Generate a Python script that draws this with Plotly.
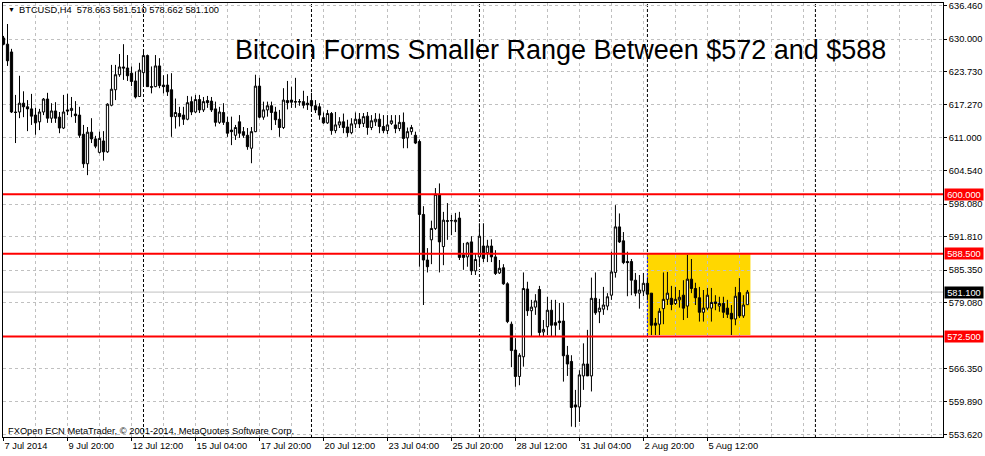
import plotly.graph_objects as go
import pandas as pd

symbol = "BTCUSD,H4"
first_bar = "2014-07-07 04:00"

opens = [
    630.2, 629.0, 627.5, 615.9, 615.9, 617.6, 616.9, 616.5, 615.3, 614.0,
    615.9, 618.4, 614.7, 616.1, 614.9, 612.8, 616.3, 616.2, 615.5, 615.3,
    611.6, 605.9, 612.0, 610.7, 608.1, 610.3, 608.2, 617.2, 620.2, 623.1,
    624.6, 624.4, 623.4, 621.9, 618.9, 623.5, 626.8, 620.8, 620.8, 624.8,
    621.1, 621.1, 620.2, 615.0, 615.6, 615.3, 614.5, 617.9, 615.9, 618.3,
    616.3, 618.1, 618.0, 616.5, 613.9, 615.8, 613.9, 612.4, 611.4, 614.0,
    612.1, 611.4, 608.9, 612.1, 620.9, 614.9, 616.3, 617.1, 615.9, 614.5,
    612.9, 618.1, 618.2, 617.8, 617.9, 617.9, 617.6, 618.1, 617.1, 616.9,
    614.8, 613.8, 615.6, 612.3, 613.4, 614.0, 613.0, 611.9, 613.6, 614.5,
    613.7, 615.1, 612.9, 614.0, 614.5, 613.1, 612.3, 613.7, 613.4, 612.7,
    613.9, 610.9, 612.1, 611.4, 610.2, 596.1, 587.3, 591.2, 593.4, 599.9,
    589.9, 594.9, 594.9, 594.7, 595.4, 588.3, 587.9, 590.8, 585.2, 587.9,
    590.0, 588.7, 590.0, 587.9, 584.8, 585.8, 582.7, 574.9, 569.9, 564.8,
    568.6, 581.7, 577.5, 578.2, 581.6, 573.4, 574.4, 577.6, 575.2, 575.5,
    575.5, 568.9, 567.7, 559.3, 558.9, 564.9, 567.2, 564.9, 579.9, 577.3,
    577.8, 578.4, 580.5, 584.9, 593.7, 591.0, 587.0, 587.0, 583.4, 580.9,
    581.3, 582.8, 580.9, 575.1, 574.9, 577.9, 579.7, 579.9, 578.9, 579.6,
    580.5, 578.4, 583.6, 581.8, 580.0, 577.2, 578.0, 578.0, 579.2, 578.4,
    578.9, 578.0, 577.0, 575.9, 581.0, 576.5, 578.663,
]
highs = [
    630.6, 632.9, 628.1, 619.2, 622.9, 619.9, 618.2, 619.4, 616.7, 616.5,
    618.6, 619.6, 617.6, 617.8, 615.9, 619.2, 619.4, 618.8, 618.0, 616.9,
    613.4, 613.0, 614.7, 611.3, 612.1, 612.2, 617.6, 625.0, 625.0, 627.1,
    629.0, 626.9, 624.7, 623.7, 625.4, 627.7, 627.0, 624.7, 626.9, 626.3,
    623.0, 623.2, 623.4, 618.5, 616.9, 616.9, 619.0, 618.9, 619.2, 619.2,
    618.8, 619.0, 618.8, 617.9, 616.9, 617.6, 615.0, 615.0, 613.4, 615.3,
    613.0, 612.8, 613.0, 623.1, 622.5, 617.9, 617.9, 617.9, 616.9, 616.3,
    620.5, 621.9, 620.8, 622.5, 618.4, 620.0, 619.0, 619.6, 618.2, 617.6,
    615.8, 616.3, 615.9, 615.9, 614.9, 615.6, 614.4, 614.7, 615.8, 615.7,
    615.7, 615.9, 615.3, 615.7, 615.6, 615.3, 615.3, 615.3, 615.3, 615.3,
    615.8, 612.9, 613.4, 612.1, 610.6, 597.7, 589.6, 594.9, 601.2, 602.1,
    596.6, 598.3, 596.0, 596.4, 596.6, 590.6, 590.8, 591.9, 588.6, 594.4,
    594.4, 591.2, 591.3, 589.2, 587.3, 586.5, 583.0, 575.4, 572.2, 569.3,
    584.9, 583.1, 579.6, 580.7, 582.3, 575.7, 580.2, 579.6, 579.6, 579.0,
    579.0, 570.7, 568.9, 562.2, 566.0, 571.2, 573.8, 583.9, 584.9, 579.8,
    582.1, 580.9, 588.9, 597.9, 596.3, 592.7, 588.9, 587.5, 584.8, 584.4,
    584.8, 583.8, 580.9, 576.1, 578.0, 584.9, 585.0, 582.3, 582.1, 581.5,
    583.4, 588.3, 587.5, 582.9, 582.1, 581.5, 581.9, 581.9, 580.5, 580.2,
    580.2, 579.6, 578.6, 582.1, 583.8, 580.5, 581.51,
]
lows = [
    628.8, 624.8, 615.7, 609.9, 614.7, 614.9, 612.2, 613.4, 611.5, 612.4,
    615.3, 613.8, 613.8, 613.8, 611.8, 612.6, 615.3, 614.9, 613.8, 610.9,
    605.1, 603.7, 609.9, 608.9, 607.9, 606.5, 608.0, 617.0, 618.2, 622.7,
    622.1, 621.9, 620.9, 618.5, 618.8, 620.8, 620.8, 619.5, 620.7, 620.5,
    619.5, 619.0, 611.1, 612.7, 613.1, 613.4, 614.3, 615.3, 615.7, 615.7,
    615.9, 616.7, 615.9, 613.1, 613.6, 613.4, 611.1, 609.5, 610.5, 610.9,
    610.9, 608.6, 606.0, 612.0, 614.7, 614.4, 615.0, 612.4, 613.4, 611.1,
    612.6, 616.4, 616.7, 616.7, 617.1, 616.6, 616.3, 615.9, 615.7, 614.4,
    613.6, 613.6, 611.5, 611.8, 612.8, 611.8, 611.1, 611.6, 612.8, 612.8,
    613.0, 611.5, 612.4, 613.2, 611.8, 611.8, 611.6, 613.4, 611.8, 612.2,
    608.9, 608.9, 611.5, 609.7, 586.0, 578.6, 584.9, 586.5, 593.1, 584.9,
    586.3, 591.2, 592.1, 592.7, 587.3, 585.4, 586.0, 584.4, 584.4, 586.3,
    586.9, 586.9, 586.9, 584.4, 584.6, 582.5, 575.1, 566.6, 562.8, 563.1,
    566.7, 576.5, 572.6, 576.7, 572.6, 572.6, 572.8, 572.6, 572.6, 573.8,
    563.8, 564.9, 555.1, 555.0, 556.0, 562.2, 564.9, 561.9, 576.7, 575.1,
    576.7, 577.6, 579.6, 583.9, 590.6, 586.5, 580.3, 580.5, 580.3, 577.9,
    580.3, 579.6, 572.8, 572.8, 572.8, 574.9, 578.6, 577.6, 578.6, 578.1,
    575.7, 576.1, 580.9, 578.6, 575.4, 575.4, 577.6, 575.4, 577.6, 577.3,
    576.1, 576.1, 572.8, 574.7, 576.1, 576.1, 578.662,
]
closes = [
    629.0, 625.8, 615.9, 615.8, 617.6, 616.9, 616.5, 615.1, 613.8, 615.9,
    618.4, 614.7, 616.1, 614.7, 612.8, 615.9, 616.1, 616.6, 615.2, 611.4,
    605.9, 612.0, 610.7, 609.3, 610.8, 608.2, 617.4, 620.3, 623.1, 624.6,
    624.4, 622.9, 621.8, 618.8, 624.0, 626.8, 620.8, 620.7, 624.8, 621.0,
    620.8, 619.8, 615.0, 615.8, 615.0, 614.5, 617.7, 615.9, 618.3, 616.3,
    617.9, 617.7, 616.3, 613.9, 615.9, 613.9, 611.8, 612.1, 612.9, 611.8,
    611.4, 609.2, 612.1, 620.9, 614.9, 616.3, 617.1, 615.8, 614.4, 612.9,
    618.2, 617.7, 617.8, 617.9, 617.85, 617.2, 617.3, 617.1, 616.3, 615.3,
    613.8, 615.6, 612.3, 613.4, 614.0, 612.9, 611.9, 613.6, 614.5, 613.6,
    615.0, 612.9, 614.2, 614.5, 613.1, 612.3, 613.4, 614.2, 612.7, 613.9,
    610.8, 612.1, 612.9, 609.9, 596.1, 587.3, 586.0, 593.4, 600.0, 590.8,
    595.0, 594.8, 594.9, 595.0, 587.8, 587.8, 590.6, 585.2, 587.4, 591.9,
    587.6, 590.0, 587.9, 584.7, 585.7, 582.7, 575.4, 569.8, 564.8, 568.9,
    581.8, 577.5, 578.2, 579.4, 573.3, 573.9, 577.6, 574.7, 574.7, 575.2,
    568.8, 567.2, 558.8, 558.9, 565.1, 567.2, 564.9, 579.9, 577.1, 578.0,
    578.6, 580.2, 585.0, 593.7, 590.8, 586.8, 586.8, 583.4, 580.9, 581.5,
    582.8, 580.7, 574.7, 574.7, 577.4, 579.7, 580.9, 578.7, 579.7, 580.1,
    578.0, 583.6, 581.8, 580.0, 577.2, 578.0, 580.5, 579.1, 578.9, 578.9,
    577.2, 576.8, 575.9, 580.3, 576.5, 578.6, 581.1,
]

tick_times = ["2014-07-07 04:00", "2014-07-09 20:00", "2014-07-12 12:00",
              "2014-07-15 04:00", "2014-07-17 20:00", "2014-07-20 12:00",
              "2014-07-23 04:00", "2014-07-25 20:00", "2014-07-28 12:00",
              "2014-07-31 04:00", "2014-08-02 20:00", "2014-08-05 12:00"]
tick_labels = ["7 Jul 2014", "9 Jul 20:00", "12 Jul 12:00", "15 Jul 04:00",
               "17 Jul 20:00", "20 Jul 12:00", "23 Jul 04:00", "25 Jul 20:00",
               "28 Jul 12:00", "31 Jul 04:00", "2 Aug 20:00", "5 Aug 12:00"]
price_ticks = [636.46, 630.0, 623.73, 617.27, 611.0, 604.54, 598.08,
               591.81, 585.35, 579.08, 566.35, 559.89, 553.62]
levels = [600.0, 588.5, 572.5]
last_price = 581.1
week_starts = ["2014-07-13", "2014-07-20", "2014-07-27", "2014-08-03", "2014-08-10"]
box_start, box_end = "2014-08-03 00:00", "2014-08-07 07:00"
box_low, box_high = 572.8, 588.5
x_range = ["2014-07-07 03:30", "2014-08-15 07:36"]
y_range = [553.1, 636.96]

title = "Bitcoin Forms Smaller Range Between $572 and $588"
footer = "FXOpen ECN MetaTrader, © 2001-2014, MetaQuotes Software Corp."

times = pd.date_range(first_bar, periods=len(opens), freq="4h")

FONT = "Liberation Sans, Arial, sans-serif"
GRID = "#C0C0C0"
TS = 9.3

fig = go.Figure()
fig.add_trace(go.Candlestick(
    x=times, open=opens, high=highs, low=lows, close=closes,
    increasing=dict(line=dict(color="black", width=1), fillcolor="white"),
    decreasing=dict(line=dict(color="black", width=1), fillcolor="black"),
    whiskerwidth=0, showlegend=False, hoverinfo="skip",
))

shapes = []
shapes.append(dict(type="rect", xref="x", yref="y", x0=box_start, x1=box_end,
                   y0=box_low, y1=box_high, fillcolor="#FFD700",
                   line=dict(width=0), layer="below"))
shapes.append(dict(type="line", xref="x", yref="y", x0=box_start, x1=box_start,
                   y0=box_low, y1=box_high,
                   line=dict(color="#0000FF", width=1, dash="2px,2px"),
                   layer="between"))
for w in week_starts:
    shapes.append(dict(type="line", xref="x", yref="paper", x0=w, x1=w, y0=0, y1=1,
                       line=dict(color="black", width=1, dash="3px,2px"),
                       layer="between"))
shapes.append(dict(type="line", xref="paper", yref="y", x0=0, x1=1,
                   y0=last_price, y1=last_price,
                   line=dict(color=GRID, width=1), layer="between"))
for lv in levels:
    shapes.append(dict(type="line", xref="paper", yref="y", x0=0, x1=1, y0=lv, y1=lv,
                       line=dict(color="#FF0000", width=2), layer="above"))

W, H = 985, 456
L, R, T, B = 3, 42, 3, 19
pw, ph = W - L - R, H - T - B


def px_x(x):
    return (x - L) / pw


def px_y(y):
    return (H - B - y) / ph


annotations = [
    dict(text="▼", x=px_x(6), y=px_y(10), xref="paper", yref="paper",
         xanchor="left", yanchor="middle", showarrow=False,
         font=dict(family=FONT, size=7, color="black")),
    dict(text=f"{symbol}  {opens[-1]:.3f} {highs[-1]:.3f} {lows[-1]:.3f} {closes[-1]:.3f}",
         x=px_x(17), y=px_y(10), xref="paper", yref="paper",
         xanchor="left", yanchor="middle", showarrow=False,
         font=dict(family=FONT, size=TS, color="black")),
    dict(text=title, x=px_x(233), y=px_y(50), xref="paper", yref="paper",
         xanchor="left", yanchor="middle", showarrow=False,
         font=dict(family=FONT, size=27, color="black")),
    dict(text=footer, x=px_x(6), y=px_y(431), xref="paper", yref="paper",
         xanchor="left", yanchor="middle", showarrow=False,
         font=dict(family=FONT, size=TS, color="black")),
]
for lv in levels:
    annotations.append(dict(text=f"{lv:.3f}", x=1, y=lv, xref="paper", yref="y",
                            xanchor="left", yanchor="middle", xshift=1,
                            showarrow=False, bgcolor="#FF0000", width=38, height=11,
                            borderpad=0, align="center",
                            font=dict(family=FONT, size=TS, color="white")))
annotations.append(dict(text=f"{last_price:.3f}", x=1, y=last_price, xref="paper", yref="y",
                        xanchor="left", yanchor="middle", xshift=1,
                        showarrow=False, bgcolor="black", width=38, height=11,
                        borderpad=0, align="center",
                        font=dict(family=FONT, size=TS, color="white")))

fig.update_layout(
    width=W, height=H,
    margin=dict(l=L, r=R, t=T, b=B, pad=0),
    paper_bgcolor="white", plot_bgcolor="white",
    showlegend=False, boxgap=0.2,
    shapes=shapes, annotations=annotations,
    font=dict(family=FONT, size=TS, color="black"),
    xaxis=dict(
        type="date", range=x_range, rangeslider=dict(visible=False),
        tickvals=tick_times, ticktext=tick_labels,
        ticks="outside", ticklen=3, tickcolor="black",
        ticklabelposition="outside right", ticklabeloverflow="allow",
        tickfont=dict(family=FONT, size=TS, color="black"),
        showgrid=True, gridcolor=GRID, griddash="3px,3px", gridwidth=1,
        minor=dict(tick0=first_bar, dtick=32 * 3600 * 1000, showgrid=True,
                   gridcolor=GRID, griddash="3px,3px", gridwidth=1, ticks=""),
        showline=True, linecolor="black", linewidth=1, mirror=True,
        zeroline=False, automargin=False, fixedrange=True,
    ),
    yaxis=dict(
        side="right", range=y_range,
        tickvals=price_ticks, ticktext=[f"{p:.3f}" for p in price_ticks],
        ticks="outside", ticklen=3, tickcolor="black",
        ticklabeloverflow="allow",
        tickfont=dict(family=FONT, size=TS, color="black"),
        showgrid=True, gridcolor=GRID, griddash="3px,3px", gridwidth=1,
        showline=True, linecolor="black", linewidth=1, mirror=True,
        zeroline=False, automargin=False, fixedrange=True,
    ),
)

fig.write_html("out.html", config={"displayModeBar": False},
               post_script="document.body.style.margin='0';document.body.style.overflow='hidden';")
